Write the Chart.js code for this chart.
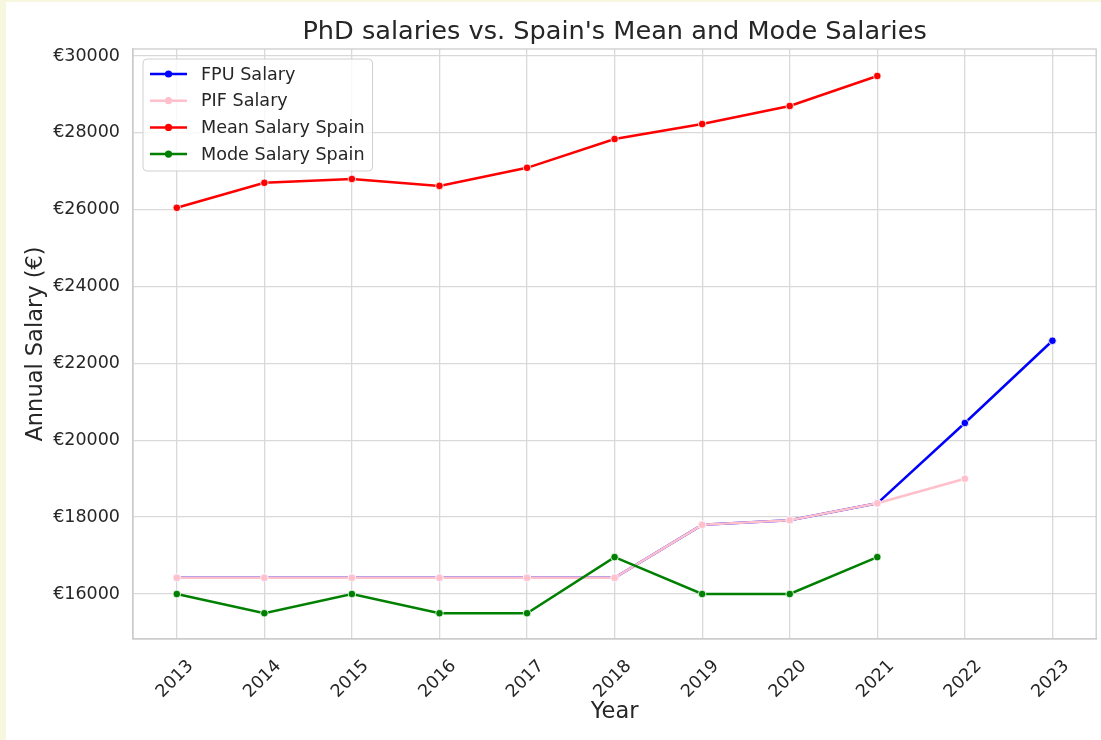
<!DOCTYPE html>
<html>
<head>
<meta charset="utf-8">
<script src="https://cdn.jsdelivr.net/npm/chart.js@4.4.0/dist/chart.umd.min.js"></script>
<style>
  html, body { margin: 0; padding: 0; background: #f7f6de; }
  #wrap { position: absolute; left: 6px; top: 2px; width: 1095px; height: 738px; background: #ffffff; }
</style>
</head>
<body>
<div id="wrap"><canvas id="chart"></canvas></div>
<script>
// data
const years = ['2013', '2014', '2015', '2016', '2017', '2018', '2019', '2020', '2021', '2022', '2023'];
const fpuSalary = [16422, 16422, 16422, 16422, 16422, 16422, 17800, 17920, 18360, 20450, 22590];
const pifSalary = [16422, 16422, 16422, 16422, 16422, 16422, 17800, 17920, 18360, 19000, null];
const meanSalary = [26050, 26700, 26800, 26620, 27090, 27840, 28230, 28700, 29480, null, null];
const modeSalary = [16000, 15500, 16000, 15500, 15500, 16960, 16000, 16000, 16960, null, null];
const yTicks = [16000, 18000, 20000, 22000, 24000, 26000, 28000, 30000];

const seriesNames = ['FPU Salary', 'PIF Salary', 'Mean Salary Spain', 'Mode Salary Spain'];
const seriesColors = ['#0000ff', '#ffc0cb', '#ff0000', '#008000'];
const chartTitle = "PhD salaries vs. Spain's Mean and Mode Salaries";

const FONT = 'DejaVu Sans';
const TEXT = '#262626';
const GRID = '#d9d9d9';

function line(i, data, order) {
    return {
        label: seriesNames[i],
        data: data,
        borderColor: seriesColors[i],
        backgroundColor: seriesColors[i],
        borderWidth: 2.5,
        pointRadius: 3.8,
        pointBorderColor: '#ffffff',
        pointBorderWidth: 0.8,
        pointBackgroundColor: seriesColors[i],
        spanGaps: false,
        order: order
    };
}

// full box round the plot + title centred over it
const frameAndTitle = {
    id: 'frameAndTitle',
    beforeDatasetsDraw(chart) {
        const ctx = chart.ctx;
        const a = chart.chartArea;
        ctx.save();
        ctx.strokeStyle = '#cccccc';
        ctx.lineWidth = 1.3;
        ctx.strokeRect(a.left, a.top, a.right - a.left, a.bottom - a.top);
        ctx.restore();
    },
    afterDraw(chart) {
        const ctx = chart.ctx;
        const a = chart.chartArea;
        ctx.save();
        ctx.font = '25.6px "' + FONT + '"';
        ctx.fillStyle = TEXT;
        ctx.textAlign = 'center';
        ctx.textBaseline = 'middle';
        ctx.fillText(chartTitle, (a.left + a.right) / 2, 30);
        ctx.restore();
    }
};

// legend drawn inside the plot, matplotlib style
const insideLegend = {
    id: 'insideLegend',
    afterDatasetsDraw(chart) {
        const ctx = chart.ctx;
        const area = chart.chartArea;
        const x = area.left + 10, y = area.top + 10;
        ctx.save();
        ctx.font = '17.6px "' + FONT + '"';
        let maxW = 0;
        seriesNames.forEach(n => { maxW = Math.max(maxW, ctx.measureText(n).width); });
        const w = 58 + maxW + 8, h = 112;
        ctx.beginPath();
        ctx.roundRect(x, y, w, h, 4);
        ctx.fillStyle = 'rgba(255,255,255,0.8)';
        ctx.fill();
        ctx.strokeStyle = '#d0d0d0';
        ctx.lineWidth = 1;
        ctx.stroke();
        seriesNames.forEach((n, i) => {
            const cy = y + 15 + i * 26.7;
            ctx.strokeStyle = seriesColors[i];
            ctx.lineWidth = 2.5;
            ctx.beginPath();
            ctx.moveTo(x + 7, cy);
            ctx.lineTo(x + 44, cy);
            ctx.stroke();
            ctx.beginPath();
            ctx.arc(x + 25.5, cy, 3.6, 0, Math.PI * 2);
            ctx.fillStyle = seriesColors[i];
            ctx.fill();
            ctx.fillStyle = TEXT;
            ctx.textBaseline = 'middle';
            ctx.textAlign = 'left';
            ctx.fillText(n, x + 58, cy + 1);
        });
        ctx.restore();
    }
};

new Chart(document.getElementById('chart'), {
    type: 'line',
    data: {
        labels: years,
        datasets: [
            line(0, fpuSalary, 4),
            line(1, pifSalary, 3),
            line(2, meanSalary, 2),
            line(3, modeSalary, 1)
        ]
    },
    options: {
        responsive: true,
        maintainAspectRatio: false,
        animation: false,
        devicePixelRatio: 1,
        layout: { padding: { top: 47, right: 4, bottom: 0, left: 0 } },
        plugins: {
            legend: { display: false },
            tooltip: { enabled: false },
            title: { display: false }
        },
        scales: {
            x: {
                type: 'category',
                offset: true,
                grid: { color: GRID, lineWidth: 1.3, drawTicks: false, offset: false },
                border: { color: '#cccccc', width: 1.3 },
                ticks: {
                    color: TEXT,
                    font: { family: FONT, size: 17.5 },
                    minRotation: 45,
                    maxRotation: 45,
                    padding: 17,
                    labelOffset: 14,
                    autoSkip: false
                },
                title: {
                    display: true,
                    text: 'Year',
                    color: TEXT,
                    font: { family: FONT, size: 22.5 },
                    padding: { top: 0, bottom: 14 }
                },
                afterFit(scale) { scale.height = 101; }
            },
            y: {
                min: 14829,
                max: 30182,
                grid: { color: GRID, lineWidth: 1.3, drawTicks: false },
                border: { color: '#cccccc', width: 1.3 },
                ticks: {
                    color: TEXT,
                    font: { family: FONT, size: 17.5 },
                    padding: 13,
                    callback: v => '€' + v
                },
                afterBuildTicks(scale) { scale.ticks = yTicks.map(v => ({ value: v })); },
                title: {
                    display: true,
                    text: 'Annual Salary (€)',
                    color: TEXT,
                    font: { family: FONT, size: 22.5 },
                    padding: { top: 16.5, bottom: 0 }
                },
                afterFit(scale) { scale.width = 127; }
            }
        }
    },
    plugins: [frameAndTitle, insideLegend]
});
</script>
</body>
</html>
